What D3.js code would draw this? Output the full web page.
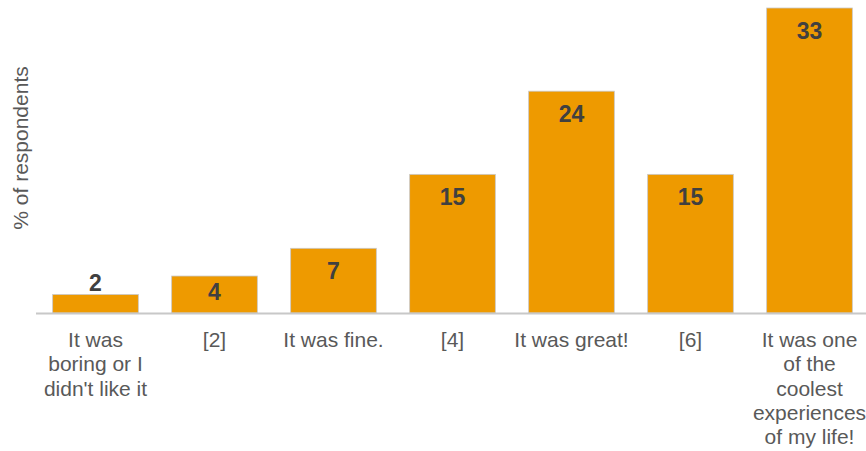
<!DOCTYPE html>
<html>
<head>
<meta charset="utf-8">
<script src="https://cdn.jsdelivr.net/npm/d3@7"></script>
<style>
  html, body { margin: 0; padding: 0; background: #fff; }
  svg { display: block; font-family: "Liberation Sans", Arial, sans-serif; }
</style>
</head>
<body>
<svg id="chart" width="866" height="451"></svg>
<script>
// Survey responses: share of respondents per rating
const categories = [
  ["It was", "boring or I", "didn't like it"],
  ["[2]"],
  ["It was fine."],
  ["[4]"],
  ["It was great!"],
  ["[6]"],
  ["It was one", "of the", "coolest", "experiences", "of my life!"]
];
const values = [2, 4, 7, 15, 24, 15, 33];
const yTitle = "% of respondents";

const width = 866, height = 451;
const margin = { top: 8, right: -3, bottom: 138, left: 36 };
const baseline = height - margin.bottom;

const svg = d3.select("#chart");

const x = d3.scaleBand()
  .domain(d3.range(values.length))
  .range([margin.left, width - margin.right])
  .paddingInner(0.28)
  .paddingOuter(0.14);

const y = d3.scaleLinear()
  .domain([0, 33])
  .range([baseline, margin.top]);

// bars
svg.append("g")
  .selectAll("rect")
  .data(values)
  .join("rect")
  .attr("x", (d, i) => x(i))
  .attr("y", d => y(d))
  .attr("width", x.bandwidth())
  .attr("height", d => baseline - y(d))
  .attr("fill", "#EE9A00")
  .attr("stroke", "#c8c8c8")
  .attr("stroke-width", 0.8);

// baseline axis
svg.append("line")
  .attr("x1", margin.left).attr("x2", width)
  .attr("y1", baseline + 0.5).attr("y2", baseline + 0.5)
  .attr("stroke", "#c8c8c8")
  .attr("stroke-width", 2);

// value labels: inside near the top, above the bar when it is too short
svg.append("g")
  .selectAll("text")
  .data(values)
  .join("text")
  .attr("x", (d, i) => x(i) + x.bandwidth() / 2)
  .attr("y", d => {
    const h = baseline - y(d);
    if (h < 25) return y(d) - 4;
    if (h < 45) return baseline - 13;
    return y(d) + 31;
  })
  .attr("text-anchor", "middle")
  .attr("font-size", 23)
  .attr("font-weight", "bold")
  .attr("fill", "#404040")
  .text(d => d);

// category labels
const cat = svg.append("g")
  .selectAll("text")
  .data(categories)
  .join("text")
  .attr("x", (d, i) => x(i) + x.bandwidth() / 2)
  .attr("y", baseline + 34)
  .attr("text-anchor", "middle")
  .attr("font-size", 21)
  .attr("fill", "#595959");
cat.selectAll("tspan")
  .data(d => d)
  .join("tspan")
  .attr("x", function () { return d3.select(this.parentNode).attr("x"); })
  .attr("dy", (d, j) => j === 0 ? 0 : 24.3)
  .text(d => d);

// y axis title
svg.append("text")
  .attr("transform", `translate(28, 148) rotate(-90)`)
  .attr("text-anchor", "middle")
  .attr("font-size", 21)
  .attr("fill", "#595959")
  .text(yTitle);
</script>
</body>
</html>
